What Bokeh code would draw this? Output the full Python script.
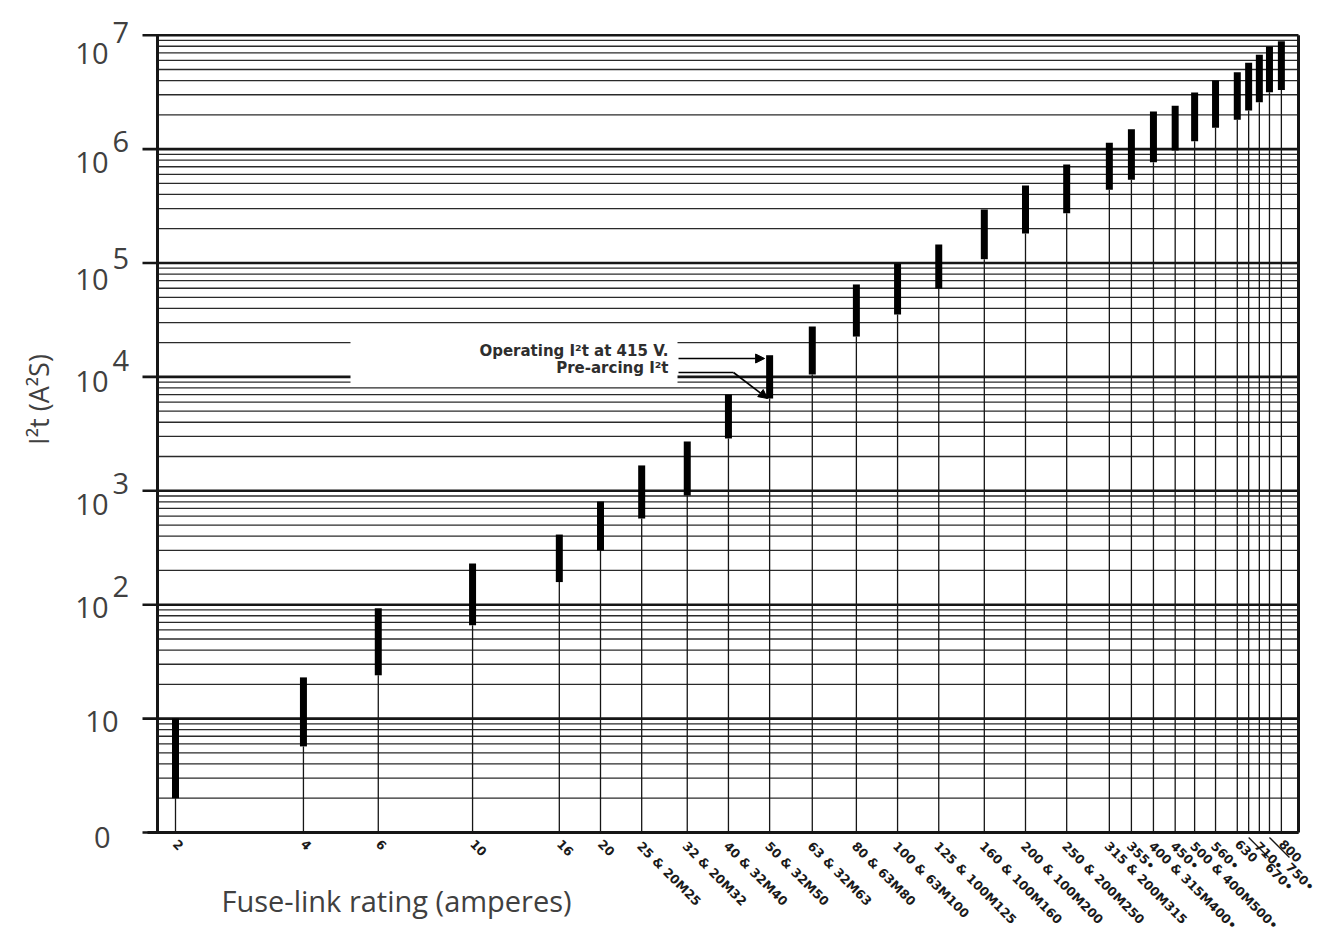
import math
from bokeh.plotting import figure
from bokeh.models import Range1d, Arrow, NormalHead
from bokeh.core.properties import value
from bokeh.embed import file_html
from bokeh.resources import INLINE

# ---------------- data ----------------
ratings = [2, 4, 6, 10, 16, 20, 25, 32, 40, 50, 63, 80, 100, 125, 160, 200,
           250, 315, 355, 400, 450, 500, 560, 630, 670, 710, 750, 800]
rating_labels = ["2", "4", "6", "10", "16", "20", "25 & 20M25", "32 & 20M32",
                 "40 & 32M40", "50 & 32M50", "63 & 32M63", "80 & 63M80",
                 "100 & 63M100", "125 & 100M125", "160 & 100M160",
                 "200 & 100M200", "250 & 200M250", "315 & 200M315", "355•",
                 "400 & 315M400•", "450•", "500 & 400M500•", "560•", "630",
                 "670•", "710•", "750•", "800"]
prearc_i2t = [2.0, 5.7, 24, 66, 158, 299, 571, 910, 2880, 6460, 10500, 22600,
              35300, 59700, 108000, 182000, 274000, 439000, 537000, 767000,
              970000, 1170000, 1540000, 1810000, 2180000, 2580000, 3160000,
              3300000]
operating_i2t = [10, 23, 93, 230, 413, 805, 1670, 2710, 7000, 15500, 27700,
                 64800, 99000, 145000, 295000, 480000, 733000, 1135000,
                 1490000, 2140000, 2400000, 3140000, 4000000, 4730000,
                 5720000, 6730000, 7950000, 8850000]
y_decades = [1, 10, 100, 1e3, 1e4, 1e5, 1e6, 1e7]
y_base_labels = ["0", "10", "10", "10", "10", "10", "10", "10"]
y_exp_labels = ["", "", "2", "3", "4", "5", "6", "7"]
leader_ratings = [670, 750]

# ---------------- layout ----------------
W, H = 1322, 940
X_PX_PER_DEC, X_REF_R, X_REF_PX = 425.0, 2.0, 175.0
Y_PX_PER_DEC, Y_ONE_PX = 113.9, 832.0
LEAD = 21


def x_at(px):
    return X_REF_R * 10 ** ((px - X_REF_PX) / X_PX_PER_DEC)


def y_at(py):
    return 10 ** ((Y_ONE_PX - py) / Y_PX_PER_DEC)


def px_of_x(x):
    return X_REF_PX + X_PX_PER_DEC * math.log10(x / X_REF_R)


X_MIN, X_MAX = x_at(157), x_at(1298)
Y_MIN, Y_MAX = y_decades[0], y_decades[-1]
INK = "#161616"
TXT = "#404040"

p = figure(width=W, height=H, x_axis_type="log", y_axis_type="log",
           x_range=Range1d(x_at(0), x_at(W)), y_range=Range1d(y_at(H), y_at(0)),
           output_backend="svg", toolbar_location=None, min_border=0)
p.axis.visible = False
p.grid.visible = False
p.outline_line_color = None
p.background_fill_color = "white"

# horizontal grid (minor 2..9 per decade, decades heavier and ticked outside)
minor_vals = [m * d for d in y_decades[:-1] for m in range(2, 10)]
p.segment(x0=X_MIN, y0=minor_vals, x1=X_MAX, y1=minor_vals,
          line_width=1.3, line_color="#2a2a2a")
p.segment(x0=x_at(142), y0=y_decades, x1=X_MAX, y1=y_decades,
          line_width=2.6, line_color=INK)

# blank area behind the legend notes
p.quad(left=x_at(350), right=x_at(677), bottom=8.5e3, top=2.5e4,
       fill_color="white", line_color=None)

# frame
p.segment(x0=[X_MIN, X_MAX], y0=Y_MIN, x1=[X_MIN, X_MAX], y1=Y_MAX,
          line_width=3, line_color=INK)
p.segment(x0=x_at(147), y0=Y_MIN, x1=X_MAX, y1=Y_MIN, line_width=3.2,
          line_color=INK)

# stems and bars
p.segment(x0=ratings, y0=Y_MIN, x1=ratings, y1=prearc_i2t,
          line_width=1.3, line_color=INK)
p.segment(x0=ratings, y0=prearc_i2t, x1=ratings, y1=operating_i2t,
          line_width=7, line_color="black", line_cap="butt")

# legend notes with arrows
i50 = ratings.index(50)
p.text(x=[x_at(668), x_at(668)], y=[y_at(350), y_at(367)],
       text=["Operating I²t at 415 V.", "Pre-arcing I²t"],
       text_font=value("DejaVu Sans"), text_font_size=value("15px"),
       text_font_style=value("bold"), text_color="#2e2e2e",
       text_align="right", text_baseline="middle")
p.add_layout(Arrow(end=NormalHead(size=9, fill_color="black", line_color="black"),
                   x_start=x_at(678), y_start=y_at(358),
                   x_end=ratings[i50] * 10 ** (-5 / X_PX_PER_DEC), y_end=y_at(358),
                   line_width=1.6, line_color="black"))
p.line(x=[x_at(678), x_at(733)], y=[y_at(372), y_at(372)],
       line_width=1.6, line_color="black")
p.add_layout(Arrow(end=NormalHead(size=9, fill_color="black", line_color="black"),
                   x_start=x_at(733), y_start=y_at(372),
                   x_end=ratings[i50] * 10 ** (-2 / X_PX_PER_DEC),
                   y_end=prearc_i2t[i50],
                   line_width=1.6, line_color="black"))

# y tick labels (10 with superscript exponents)
base_x_px = [110, 118, 108, 108, 108, 108, 108, 108]
base_dy = [5, 3, 3, 14, 5, 16, 13, 18]
p.text(x=[x_at(v) for v in base_x_px], y=y_decades, text=y_base_labels,
       y_offset=base_dy, text_font=value("Open Sans"),
       text_font_size=value("29px"), text_color=TXT,
       text_align="right", text_baseline="alphabetic")
p.text(x=x_at(112), y=y_decades, text=y_exp_labels,
       y_offset=[d - 21 for d in base_dy], text_font=value("Open Sans"),
       text_font_size=value("29px"), text_color=TXT,
       text_align="left", text_baseline="alphabetic")

# axis titles
p.text(x=[x_at(38)], y=[y_at(399)], text=["I²t (A²S)"], angle=math.pi / 2,
       text_font=value("Open Sans"), text_font_size=value("27px"),
       text_color=TXT, text_align="center", text_baseline="middle")
p.text(x=[x_at(221)], y=[y_at(900)], text=["Fuse-link rating (amperes)"],
       text_font=value("Open Sans"), text_font_size=value("29px"),
       text_color=TXT, text_align="left", text_baseline="middle")

# x tick labels, rotated
extra = [LEAD if r in leader_ratings else 0 for r in ratings]
p.text(x=ratings, y=Y_MIN, text=rating_labels, angle=-math.pi / 4,
       x_offset=[3 + e for e in extra], y_offset=[6 + e for e in extra],
       text_font=value("DejaVu Sans"), text_font_size=value("12.5px"),
       text_font_style=value("bold"), text_color="#1a1a1a",
       text_align="left", text_baseline="top")
lead_x0 = [r for r in leader_ratings]
lead_x1 = [x_at(px_of_x(r) + LEAD - 1) for r in leader_ratings]
p.segment(x0=lead_x0, y0=y_at(837), x1=lead_x1, y1=y_at(836 + LEAD),
          line_width=1.3, line_color=INK)

open("out.html", "w").write(file_html(p, INLINE))
